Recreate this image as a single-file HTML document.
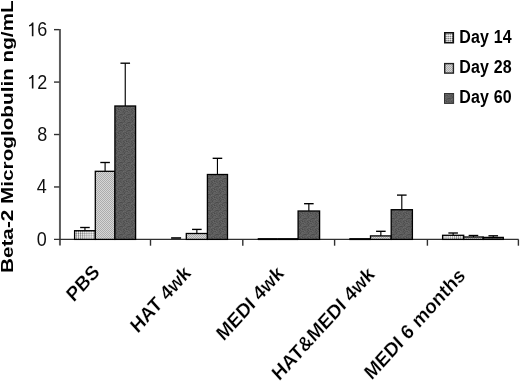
<!DOCTYPE html>
<html><head><meta charset="utf-8"><style>
html,body{margin:0;padding:0;background:#fff;}
body{width:520px;height:383px;overflow:hidden;position:relative;}
svg{position:absolute;left:0;top:0;will-change:transform;}
text{font-family:"Liberation Sans",sans-serif;}
</style></head><body>
<svg width="520" height="383" viewBox="0 0 520 383">
<defs>
<pattern id="p14" patternUnits="userSpaceOnUse" width="2.1" height="2.1" x="0.4" y="0.3">
<rect width="2.1" height="2.1" fill="#f7f7f7"/>
<rect x="0" y="0" width="2.1" height="0.55" fill="#b4b4b4"/>
<rect x="0" y="0" width="0.55" height="2.1" fill="#b4b4b4"/>
<rect x="0" y="0" width="0.95" height="0.95" fill="#505050"/>
</pattern>
<pattern id="p28" patternUnits="userSpaceOnUse" width="2" height="2">
<rect width="2" height="2" fill="#d6d6d6"/>
<rect x="0" y="0" width="1" height="1" fill="#acacac"/>
<rect x="1" y="1" width="1" height="1" fill="#acacac"/>
</pattern>
<pattern id="p60" patternUnits="userSpaceOnUse" width="8" height="8">
<rect x="0" y="0" width="1" height="1" fill="rgb(89,89,89)"/><rect x="1" y="0" width="1" height="1" fill="rgb(96,96,96)"/><rect x="2" y="0" width="1" height="1" fill="rgb(89,89,89)"/><rect x="3" y="0" width="1" height="1" fill="rgb(89,89,89)"/><rect x="4" y="0" width="1" height="1" fill="rgb(83,83,83)"/><rect x="5" y="0" width="1" height="1" fill="rgb(90,90,90)"/><rect x="6" y="0" width="1" height="1" fill="rgb(102,102,102)"/><rect x="7" y="0" width="1" height="1" fill="rgb(95,95,95)"/><rect x="0" y="1" width="1" height="1" fill="rgb(101,101,101)"/><rect x="1" y="1" width="1" height="1" fill="rgb(94,94,94)"/><rect x="2" y="1" width="1" height="1" fill="rgb(95,95,95)"/><rect x="3" y="1" width="1" height="1" fill="rgb(93,93,93)"/><rect x="4" y="1" width="1" height="1" fill="rgb(77,77,77)"/><rect x="5" y="1" width="1" height="1" fill="rgb(99,99,99)"/><rect x="6" y="1" width="1" height="1" fill="rgb(96,96,96)"/><rect x="7" y="1" width="1" height="1" fill="rgb(96,96,96)"/><rect x="0" y="2" width="1" height="1" fill="rgb(76,76,76)"/><rect x="1" y="2" width="1" height="1" fill="rgb(76,76,76)"/><rect x="2" y="2" width="1" height="1" fill="rgb(83,83,83)"/><rect x="3" y="2" width="1" height="1" fill="rgb(87,87,87)"/><rect x="4" y="2" width="1" height="1" fill="rgb(94,94,94)"/><rect x="5" y="2" width="1" height="1" fill="rgb(91,91,91)"/><rect x="6" y="2" width="1" height="1" fill="rgb(96,96,96)"/><rect x="7" y="2" width="1" height="1" fill="rgb(86,86,86)"/><rect x="0" y="3" width="1" height="1" fill="rgb(94,94,94)"/><rect x="1" y="3" width="1" height="1" fill="rgb(95,95,95)"/><rect x="2" y="3" width="1" height="1" fill="rgb(86,86,86)"/><rect x="3" y="3" width="1" height="1" fill="rgb(107,107,107)"/><rect x="4" y="3" width="1" height="1" fill="rgb(97,97,97)"/><rect x="5" y="3" width="1" height="1" fill="rgb(102,102,102)"/><rect x="6" y="3" width="1" height="1" fill="rgb(86,86,86)"/><rect x="7" y="3" width="1" height="1" fill="rgb(85,85,85)"/><rect x="0" y="4" width="1" height="1" fill="rgb(88,88,88)"/><rect x="1" y="4" width="1" height="1" fill="rgb(91,91,91)"/><rect x="2" y="4" width="1" height="1" fill="rgb(97,97,97)"/><rect x="3" y="4" width="1" height="1" fill="rgb(94,94,94)"/><rect x="4" y="4" width="1" height="1" fill="rgb(87,87,87)"/><rect x="5" y="4" width="1" height="1" fill="rgb(83,83,83)"/><rect x="6" y="4" width="1" height="1" fill="rgb(87,87,87)"/><rect x="7" y="4" width="1" height="1" fill="rgb(102,102,102)"/><rect x="0" y="5" width="1" height="1" fill="rgb(84,84,84)"/><rect x="1" y="5" width="1" height="1" fill="rgb(94,94,94)"/><rect x="2" y="5" width="1" height="1" fill="rgb(95,95,95)"/><rect x="3" y="5" width="1" height="1" fill="rgb(78,78,78)"/><rect x="4" y="5" width="1" height="1" fill="rgb(92,92,92)"/><rect x="5" y="5" width="1" height="1" fill="rgb(103,103,103)"/><rect x="6" y="5" width="1" height="1" fill="rgb(73,73,73)"/><rect x="7" y="5" width="1" height="1" fill="rgb(89,89,89)"/><rect x="0" y="6" width="1" height="1" fill="rgb(91,91,91)"/><rect x="1" y="6" width="1" height="1" fill="rgb(84,84,84)"/><rect x="2" y="6" width="1" height="1" fill="rgb(96,96,96)"/><rect x="3" y="6" width="1" height="1" fill="rgb(91,91,91)"/><rect x="4" y="6" width="1" height="1" fill="rgb(78,78,78)"/><rect x="5" y="6" width="1" height="1" fill="rgb(99,99,99)"/><rect x="6" y="6" width="1" height="1" fill="rgb(98,98,98)"/><rect x="7" y="6" width="1" height="1" fill="rgb(100,100,100)"/><rect x="0" y="7" width="1" height="1" fill="rgb(104,104,104)"/><rect x="1" y="7" width="1" height="1" fill="rgb(95,95,95)"/><rect x="2" y="7" width="1" height="1" fill="rgb(93,93,93)"/><rect x="3" y="7" width="1" height="1" fill="rgb(80,80,80)"/><rect x="4" y="7" width="1" height="1" fill="rgb(97,97,97)"/><rect x="5" y="7" width="1" height="1" fill="rgb(86,86,86)"/><rect x="6" y="7" width="1" height="1" fill="rgb(87,87,87)"/><rect x="7" y="7" width="1" height="1" fill="rgb(80,80,80)"/>
</pattern>
</defs>

<line x1="59.95" y1="29.0" x2="59.95" y2="245.5" stroke="#5c5c5c" stroke-width="2"/>
<g stroke="#303030" stroke-width="1.4" fill="none">
<line x1="54" y1="239.4" x2="518.6" y2="239.4"/>
<line x1="54" y1="186.96" x2="59.5" y2="186.96"/>
<line x1="54" y1="134.52" x2="59.5" y2="134.52"/>
<line x1="54" y1="82.08" x2="59.5" y2="82.08"/>
<line x1="54" y1="29.64" x2="59.5" y2="29.64"/>
<line x1="150.5" y1="239.4" x2="150.5" y2="245.7"/>
<line x1="242.8" y1="239.4" x2="242.8" y2="245.7"/>
<line x1="334.6" y1="239.4" x2="334.6" y2="245.7"/>
<line x1="427.4" y1="239.4" x2="427.4" y2="245.7"/>
<line x1="518.4" y1="239.4" x2="518.4" y2="245.7"/>
</g>
<text transform="translate(46.8,245.90) scale(1,1.1)" font-size="18" text-anchor="end" fill="#111">0</text>
<text transform="translate(46.8,193.46) scale(1,1.1)" font-size="18" text-anchor="end" fill="#111">4</text>
<text transform="translate(47.2,141.02) scale(1,1.1)" font-size="18" text-anchor="end" fill="#111">8</text>
<path d="M33.45 74.88 L33.45 88.58 L31.85 88.58 L31.85 77.88 Q30.9 78.58 29.0 78.88 L29.0 77.63 Q31.3 77.18 32.1 74.88 Z" fill="#111"/>
<text transform="translate(47.2,88.58) scale(1,1.1)" font-size="18" text-anchor="end" fill="#111">2</text>
<path d="M33.45 22.44 L33.45 36.14 L31.85 36.14 L31.85 25.44 Q30.9 26.14 29.0 26.44 L29.0 25.19 Q31.3 24.74 32.1 22.44 Z" fill="#111"/>
<text transform="translate(47.2,36.14) scale(1,1.1)" font-size="18" text-anchor="end" fill="#111">6</text>
<line x1="84.95" y1="227.5" x2="84.95" y2="230.7" stroke="#000" stroke-width="1.15"/>
<line x1="80.15" y1="227.5" x2="89.75" y2="227.5" stroke="#000" stroke-width="1.35"/>
<rect x="74.60" y="230.7" width="20.70" height="8.70" fill="url(#p14)" stroke="#000" stroke-width="1.3"/>
<line x1="105.10" y1="162.5" x2="105.10" y2="171.3" stroke="#000" stroke-width="1.15"/>
<line x1="100.30" y1="162.5" x2="109.90" y2="162.5" stroke="#000" stroke-width="1.35"/>
<rect x="95.30" y="171.3" width="19.60" height="68.10" fill="url(#p28)" stroke="#000" stroke-width="1.3"/>
<line x1="125.25" y1="63.2" x2="125.25" y2="106.0" stroke="#000" stroke-width="1.15"/>
<line x1="120.45" y1="63.2" x2="130.05" y2="63.2" stroke="#000" stroke-width="1.35"/>
<rect x="114.90" y="106.0" width="20.70" height="133.40" fill="url(#p60)" stroke="#000" stroke-width="1.3"/>
<line x1="171.10" y1="238.0" x2="181.10" y2="238.0" stroke="#000" stroke-width="1.6"/>
<line x1="196.85" y1="229.4" x2="196.85" y2="233.5" stroke="#000" stroke-width="1.15"/>
<line x1="192.05" y1="229.4" x2="201.65" y2="229.4" stroke="#000" stroke-width="1.35"/>
<rect x="186.30" y="233.5" width="21.10" height="5.90" fill="url(#p28)" stroke="#000" stroke-width="1.3"/>
<line x1="217.45" y1="158.3" x2="217.45" y2="174.5" stroke="#000" stroke-width="1.15"/>
<line x1="212.65" y1="158.3" x2="222.25" y2="158.3" stroke="#000" stroke-width="1.35"/>
<rect x="207.40" y="174.5" width="20.10" height="64.90" fill="url(#p60)" stroke="#000" stroke-width="1.3"/>
<line x1="257.70" y1="239.1" x2="277.90" y2="239.1" stroke="#000" stroke-width="2"/>
<line x1="277.90" y1="239.1" x2="298.10" y2="239.1" stroke="#000" stroke-width="2"/>
<line x1="308.85" y1="203.7" x2="308.85" y2="211.0" stroke="#000" stroke-width="1.15"/>
<line x1="304.05" y1="203.7" x2="313.65" y2="203.7" stroke="#000" stroke-width="1.35"/>
<rect x="298.10" y="211.0" width="21.50" height="28.40" fill="url(#p60)" stroke="#000" stroke-width="1.3"/>
<line x1="349.30" y1="239.1" x2="370.50" y2="239.1" stroke="#000" stroke-width="2"/>
<line x1="380.85" y1="231.3" x2="380.85" y2="235.9" stroke="#000" stroke-width="1.15"/>
<line x1="376.05" y1="231.3" x2="385.65" y2="231.3" stroke="#000" stroke-width="1.35"/>
<rect x="370.50" y="235.9" width="20.70" height="3.50" fill="url(#p28)" stroke="#000" stroke-width="1.3"/>
<line x1="401.80" y1="195.1" x2="401.80" y2="209.7" stroke="#000" stroke-width="1.15"/>
<line x1="397.00" y1="195.1" x2="406.60" y2="195.1" stroke="#000" stroke-width="1.35"/>
<rect x="391.20" y="209.7" width="21.20" height="29.70" fill="url(#p60)" stroke="#000" stroke-width="1.3"/>
<line x1="453.15" y1="233.0" x2="453.15" y2="235.3" stroke="#000" stroke-width="1.15"/>
<line x1="448.35" y1="233.0" x2="457.95" y2="233.0" stroke="#000" stroke-width="1.35"/>
<rect x="442.60" y="235.3" width="21.10" height="4.10" fill="url(#p14)" stroke="#000" stroke-width="1.3"/>
<line x1="473.45" y1="235.5" x2="473.45" y2="237.0" stroke="#000" stroke-width="1.15"/>
<line x1="468.65" y1="235.5" x2="478.25" y2="235.5" stroke="#000" stroke-width="1.35"/>
<rect x="463.70" y="237.0" width="19.50" height="2.40" fill="url(#p28)" stroke="#000" stroke-width="1.3"/>
<line x1="493.25" y1="235.8" x2="493.25" y2="237.4" stroke="#000" stroke-width="1.15"/>
<line x1="488.45" y1="235.8" x2="498.05" y2="235.8" stroke="#000" stroke-width="1.35"/>
<rect x="483.20" y="237.4" width="20.10" height="2.00" fill="url(#p60)" stroke="#000" stroke-width="1.3"/>
<rect x="444.80" y="32.80" width="8.50" height="9.90" fill="url(#p14)" stroke="#111" stroke-width="1.6"/>
<text transform="translate(459.2,42.8) scale(1,1.1)" font-size="16" font-weight="bold" letter-spacing="0.2" fill="#000">Day 14</text>
<rect x="444.70" y="63.60" width="8.70" height="9.50" fill="url(#p28)" stroke="#222" stroke-width="1.4"/>
<text transform="translate(459.2,73.1) scale(1,1.1)" font-size="16" font-weight="bold" letter-spacing="0.2" fill="#000">Day 28</text>
<rect x="444.50" y="93.50" width="9.10" height="9.90" fill="url(#p60)" stroke="#333" stroke-width="1.0"/>
<text transform="translate(459.2,103.3) scale(1,1.1)" font-size="16" font-weight="bold" letter-spacing="0.2" fill="#000">Day 60</text>
<text transform="translate(13.3,273) rotate(-90) scale(1.205,1)" font-size="17.2" font-weight="bold" fill="#000">Beta-2 Microglobulin ng/mL</text>
<text transform="translate(100.7,273.1) scale(1,1.1) rotate(-45)" font-size="18.5" font-weight="bold" text-anchor="end" fill="#000" stroke="#fff" stroke-width="0.2">PBS</text>
<text transform="translate(191.9,274.3) scale(1,1.1) rotate(-45)" font-size="18.5" font-weight="bold" text-anchor="end" fill="#000" stroke="#fff" stroke-width="0.2">HAT 4wk</text>
<text transform="translate(284.8,274.5) scale(1,1.1) rotate(-45)" font-size="18.5" font-weight="bold" text-anchor="end" fill="#000" stroke="#fff" stroke-width="0.2">MEDI 4wk</text>
<text transform="translate(375.6,275.6) scale(1,1.1) rotate(-45)" font-size="18.5" font-weight="bold" text-anchor="end" fill="#000" stroke="#fff" stroke-width="0.2">HAT&amp;MEDI 4wk</text>
<text transform="translate(466.2,276.8) scale(1,1.1) rotate(-45)" font-size="18.5" font-weight="bold" text-anchor="end" fill="#000" stroke="#fff" stroke-width="0.2">MEDI 6 months</text>
</svg>
</body></html>
